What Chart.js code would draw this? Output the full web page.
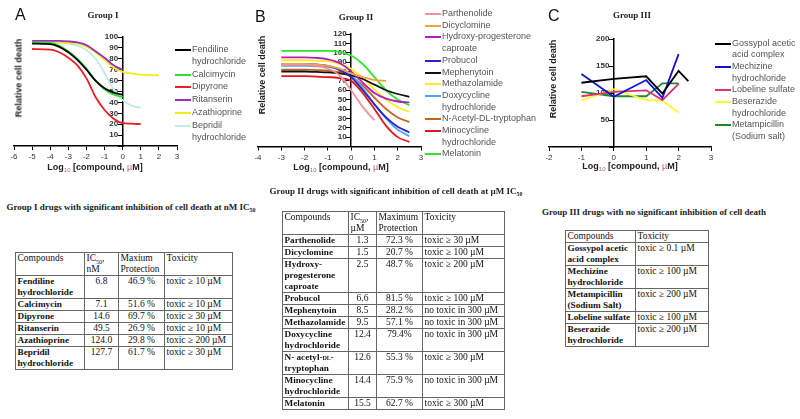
<!DOCTYPE html>
<html lang="en">
<head>
<meta charset="UTF-8">
<title>Inhibition of cell death - drug groups</title>
<script src="https://cdn.jsdelivr.net/npm/chart.js"></script>
<style>
  body { margin: 0; background: #fff; font-family: Arial, "Liberation Sans", sans-serif; }
  #page { position: relative; width: 800px; height: 419px; overflow: hidden; }
  canvas { position: absolute; top: 0; }
  .abs { position: absolute; white-space: nowrap; line-height: 1; }
  .panel { font-size: 16px; color: #111; }
  .grp { font-family: "Liberation Serif", "Times New Roman", serif; font-weight: bold; font-size: 9px; color: #222; transform: translate(-50%, -50%); }
  .ylab { font-weight: bold; font-size: 9px; color: #222; transform: translate(-50%, -50%) rotate(-90deg); }
  .xlab { font-weight: bold; font-size: 9px; color: #222; transform: translate(-50%, -50%); }
  .xlab sub { font-size: 6px; color: #b0608a; font-weight: normal; }
  .xlab .mu { color: #b0608a; font-weight: normal; }
  .legend { position: absolute; font-size: 9px; color: #555; line-height: 11.7px; }
  .legend .entry { position: relative; white-space: pre; }
  .legend .sw { position: absolute; left: 0; top: 5px; height: 2px; }
  .ttl { font-family: "Liberation Serif", "Times New Roman", serif; font-weight: bold; font-size: 9px; color: #222; transform: translate(-50%, -50%); }
  .ttl sub { font-size: 6px; }
  table { position: absolute; border-collapse: collapse; table-layout: fixed;
          font-family: "Liberation Serif", "Times New Roman", serif; font-size: 9.5px; color: #111; }
  td { border: 1px solid #666; padding: 0 1.5px; vertical-align: top; line-height: 11px; overflow: hidden; }
  td.name { font-weight: bold; font-size: 9.2px; }
  td.num { text-align: center; }
  td sub { font-size: 6px; line-height: 0; }
  .sc { font-variant: small-caps; }
</style>
</head>
<body>
<div id="page">
  <canvas id="chartA" width="200" height="190" style="left:0px"></canvas>
  <canvas id="chartB" width="200" height="190" style="left:240px"></canvas>
  <canvas id="chartC" width="200" height="190" style="left:530px"></canvas>

  <div class="abs panel" style="left:15px; top:7px">A</div>
  <div class="abs panel" style="left:255px; top:9px">B</div>
  <div class="abs panel" style="left:548px; top:8px">C</div>

  <div class="abs grp" style="left:103px; top:15px">Group I</div>
  <div class="abs grp" style="left:356px; top:17px">Group II</div>
  <div class="abs grp" style="left:632px; top:15px">Group III</div>

  <div class="abs ylab" style="left:19px; top:78px">Relative cell death</div>
  <div class="abs ylab" style="left:262px; top:75px">Relative cell death</div>
  <div class="abs ylab" style="left:553px; top:79px">Relative cell death</div>

  <div class="abs xlab" style="left:95px; top:168px">Log<sub>10</sub> [compound, <span class="mu">µ</span>M]</div>
  <div class="abs xlab" style="left:341px; top:168px">Log<sub>10</sub> [compound, <span class="mu">µ</span>M]</div>
  <div class="abs xlab" style="left:630px; top:167px">Log<sub>10</sub> [compound, <span class="mu">µ</span>M]</div>

  <div id="legendA" class="legend" style="left:175px; top:44px"></div>
  <div id="legendB" class="legend" style="left:425px; top:8px"></div>
  <div id="legendC" class="legend" style="left:715px; top:37.5px"></div>

  <div class="abs ttl" style="left:131px; top:208px">Group I drugs with significant inhibition of cell death at nM IC<sub>50</sub></div>
  <div class="abs ttl" style="left:396px; top:192px">Group II drugs with significant inhibition of cell death at µM IC<sub>50</sub></div>
  <div class="abs ttl" style="left:654px; top:212px">Group III drugs with no significant inhibition of cell death</div>

  <table id="tableA" style="left:15px; top:252px; width:217px">
    <colgroup><col style="width:69px"><col style="width:34px"><col style="width:46px"><col style="width:68px"></colgroup>
  </table>
  <table id="tableB" style="left:282px; top:211px; width:222px">
    <colgroup><col style="width:66px"><col style="width:28px"><col style="width:46px"><col style="width:82px"></colgroup>
  </table>
  <table id="tableC" style="left:565px; top:230px; width:143px">
    <colgroup><col style="width:70px"><col style="width:73px"></colgroup>
  </table>
</div>

<script>
// ---- Group I (panel A) : log10 dose grid and relative cell death ----
const dosesA = [-5, -4, -3.5, -3, -2.5, -2, -1.5, -1, -0.5, 0, 0.5, 1, 1.5, 2];
const fendiline    = [94, 93.5, 91, 86, 79, 70, 60, 53, 49, 47, null, null, null, null];
const calcimycin   = [95, 94.5, 92, 87, 80, 71, 60, 52, 47, 45, null, null, null, null];
const dipyrone     = [89, 88.5, 86, 81, 74, 62, 45, 33, 25, 21, 20.5, 20, null, null];
const ritanserin   = [96.5, 96.5, 96.5, 96, 95, 92.5, 87, 81, 74, 70, null, null, null, null];
const azathioprine = [95, 95, 95, 94.5, 94, 91, 86, 79, 72, 68, 66.5, 65.5, 65, 65];
const bepridil     = [95, 95, 94.5, 94, 92, 88, 80, 67, 52, 42, 37, 35, null, null];
const namesA = ["Fendiline\nhydrochloride", "Calcimycin", "Dipyrone", "Ritanserin", "Azathioprine", "Bepridil\nhydrochloride"];
const colorsA = ["#000000", "#2ee02e", "#ee1c24", "#9a2fc0", "#f4ec1a", "#bfeee0"];

// ---- Group II (panel B) ----
const dosesB = [-3, -2, -1.5, -1, -0.5, 0, 0.5, 1, 1.5, 2, 2.5];
const parthenolide  = [87, 87, 86, 83, 76, 60, 42, 28, null, null, null];
const dicyclomine   = [88, 88, 87.5, 86, 83, 78, 74, 71, 70, null, null];
const hydroxyProg   = [95, 95, 94.5, 93, 89, 80, 68, 57, 51, 48, 47];
const probucol      = [88, 88, 87.5, 86, 82, 74, 60, 45, 31, 21, 15];
const mephenytoin   = [80, 80, 79.5, 79, 78, 76, 72, 66, 60, 56, 53];
const methazolamide = [92, 92, 91.5, 91, 88, 83, 73, 61, 50, 42, 37];
const doxycycline   = [86, 86, 85.5, 85, 82, 76, 62, 45, 30, 18, 11];
const acetylTrp     = [82, 82, 81.5, 81, 79, 75, 65, 52, 40, 31, 26];
const minocycline   = [75, 75, 74.5, 74, 73, 70, 57, 40, 22, 10, 5];
const melatonin     = [102, 102, 102, 102, 101, 97, 88, 74, 60, 50, 44];
const namesB = ["Parthenolide", "Dicyclomine", "Hydroxy-progesterone\ncaproate", "Probucol", "Mephenytoin",
                "Methazolamide", "Doxycycline\nhydrochloride", "N-Acetyl-DL-tryptophan", "Minocycline\nhydrochloride", "Melatonin"];
const colorsB = ["#f4909a", "#f5a23c", "#b21cc0", "#2525c8", "#111111", "#f5f020", "#4ea6e6", "#c8641e", "#e8141c", "#2ee82e"];

// ---- Group III (panel C) ----
const dosesC = [-1, 0, 1, 1.5, 2, 2.3];
const gossypol      = [119, 126, 131, 99, 141, 122];
const mechizine     = [135, 93, 124, 91, 172, null];
const lobeline      = [94, 102, 105, 87, 117, null];
const beserazide    = [86, 107, 87, 86, 64, null];
const metampicillin = [102, 94, 94, 118, 118, null];
const namesC = ["Gossypol acetic\nacid complex", "Mechizine\nhydrochloride", "Lobeline sulfate", "Beserazide\nhydrochloride", "Metampicillin\n(Sodium salt)"];
const colorsC = ["#000000", "#1010d8", "#e0307a", "#fafa30", "#1f8a2a"];

// ---- tables ----
const g1Compounds  = ["Fendiline hydrochloride", "Calcimycin", "Dipyrone", "Ritanserin", "Azathioprine", "Bepridil hydrochloride"];
const g1IC50       = ["6.8", "7.1", "14.6", "49.5", "124.0", "127.7"];
const g1Protection = ["46.9 %", "51.6 %", "69.7 %", "26.9 %", "29.8 %", "61.7 %"];
const g1Toxicity   = ["toxic ≥ 10 µM", "toxic ≥ 10 µM", "toxic ≥ 30 µM", "toxic ≥ 10 µM", "toxic ≥ 200 µM", "toxic ≥ 30 µM"];

const g2Compounds  = ["Parthenolide", "Dicyclomine", "Hydroxy-progesterone caproate", "Probucol", "Mephenytoin", "Methazolamide",
                      "Doxycycline hydrochloride", "N- acetyl-<span class=\"sc\">dl</span>-tryptophan", "Minocycline hydrochloride", "Melatonin"];
const g2IC50       = ["1.3", "1.5", "2.5", "6.6", "8.5", "9.5", "12.4", "12.6", "14.4", "15.5"];
const g2Protection = ["72.3 %", "20.7 %", "48.7 %", "81.5 %", "28.2 %", "57.1 %", "79.4%", "55.3 %", "75.9 %", "62.7 %"];
const g2Toxicity   = ["toxic ≥ 30 µM", "toxic ≥ 100 µM", "toxic ≥ 200 µM", "toxic ≥ 100 µM", "no toxic in 300 µM", "no toxic in 300 µM",
                      "no toxic in 300 µM", "toxic ≥ 300 µM", "no toxic in 300 µM", "toxic ≥ 300 µM"];

const g3Compounds  = ["Gossypol acetic acid complex", "Mechizine hydrochloride", "Metampicillin (Sodium Salt)", "Lobeline sulfate", "Beserazide hydrochloride"];
const g3Toxicity   = ["toxic ≥ 0.1 µM", "toxic ≥ 100 µM", "toxic ≥ 200 µM", "toxic ≥ 100 µM", "toxic ≥ 200 µM"];

function drawPanel(id, doses, series, names, colors, xMin, xMax, yMax, yStep, pad, smooth) {
  new Chart(document.getElementById(id), {
    type: "line",
    data: {
      datasets: series.map((vals, i) => ({
        label: names[i],
        data: vals.map((v, j) => ({ x: doses[j], y: v })).filter(p => p.y !== null),
        borderColor: colors[i],
        borderWidth: 1.8,
        pointRadius: 0,
        fill: false,
        cubicInterpolationMode: smooth ? "monotone" : "default",
        tension: 0
      }))
    },
    options: {
      responsive: false,
      animation: false,
      layout: { padding: pad },
      plugins: { legend: { display: false }, tooltip: { enabled: false } },
      scales: {
        x: {
          type: "linear", min: xMin, max: xMax, position: "bottom",
          ticks: { stepSize: 1, autoSkip: false, maxRotation: 0, font: { size: 8 }, color: "#333", padding: 2 },
          grid: { drawOnChartArea: false, drawTicks: true, tickLength: 4, color: "#000" },
          border: { color: "#000", width: 1.5 },
          afterFit: s => { s.height = 22; }
        },
        y: {
          type: "linear", min: 0, max: yMax, position: { x: 0 },
          // the axis sits at x = 0, labels are right-aligned on it, so pad them past the tick marks
          ticks: { stepSize: yStep, autoSkip: false, font: { size: 8, weight: "bold" }, color: "#333",
                   callback: v => v === 0 ? "" : v + "  " },
          grid: { drawOnChartArea: false, tickLength: 4, color: "#000" },
          border: { color: "#000", width: 1.5 }
        }
      }
    }
  });
}

function buildLegend(id, names, colors, swWidth, gap) {
  const box = document.getElementById(id);
  names.forEach((n, i) => {
    const e = document.createElement("div");
    e.className = "entry";
    e.style.paddingLeft = (swWidth + 1) + "px";
    if (i > 0) e.style.marginTop = gap + "px";
    e.textContent = n;
    const sw = document.createElement("div");
    sw.className = "sw";
    sw.style.width = swWidth + "px";
    sw.style.background = colors[i];
    e.appendChild(sw);
    box.appendChild(e);
  });
}

function buildTable(id, header, cols) {
  const t = document.getElementById(id);
  const hr = t.insertRow();
  header.forEach(h => { const c = hr.insertCell(); c.innerHTML = h; });
  cols[0].forEach((_, r) => {
    const row = t.insertRow();
    cols.forEach((col, k) => {
      const c = row.insertCell();
      c.innerHTML = col[r];
      if (k === 0) c.className = "name";
      else if (k < cols.length - 1) c.className = "num";
    });
  });
}

drawPanel("chartA", dosesA, [fendiline, calcimycin, dipyrone, ritanserin, azathioprine, bepridil],
          namesA, colorsA, -6, 3, 100, 10, { left: 14, right: 23, top: 37, bottom: 22 }, true);
drawPanel("chartB", dosesB, [parthenolide, dicyclomine, hydroxyProg, probucol, mephenytoin, methazolamide,
          doxycycline, acetylTrp, minocycline, melatonin],
          namesB, colorsB, -4, 3, 120, 10, { left: 18, right: 19, top: 34, bottom: 21.5 }, true);
drawPanel("chartC", dosesC, [gossypol, mechizine, lobeline, beserazide, metampicillin],
          namesC, colorsC, -2, 3, 200, 50, { left: 19, right: 19, top: 39, bottom: 21 }, false);

buildLegend("legendA", namesA, colorsA, 16, 1.2);
buildLegend("legendB", namesB, colorsB, 16, 0);
buildLegend("legendC", namesC, colorsC, 16, 0);

buildTable("tableA", ["Compounds", "IC<sub>50</sub>,<br>nM", "Maxium<br>Protection", "Toxicity"],
           [g1Compounds, g1IC50, g1Protection, g1Toxicity]);
buildTable("tableB", ["Compounds", "IC<sub>50</sub>,<br>µM", "Maximum<br>Protection", "Toxicity"],
           [g2Compounds, g2IC50, g2Protection, g2Toxicity]);
buildTable("tableC", ["Compounds", "Toxicity"], [g3Compounds, g3Toxicity]);
</script>
</body>
</html>
